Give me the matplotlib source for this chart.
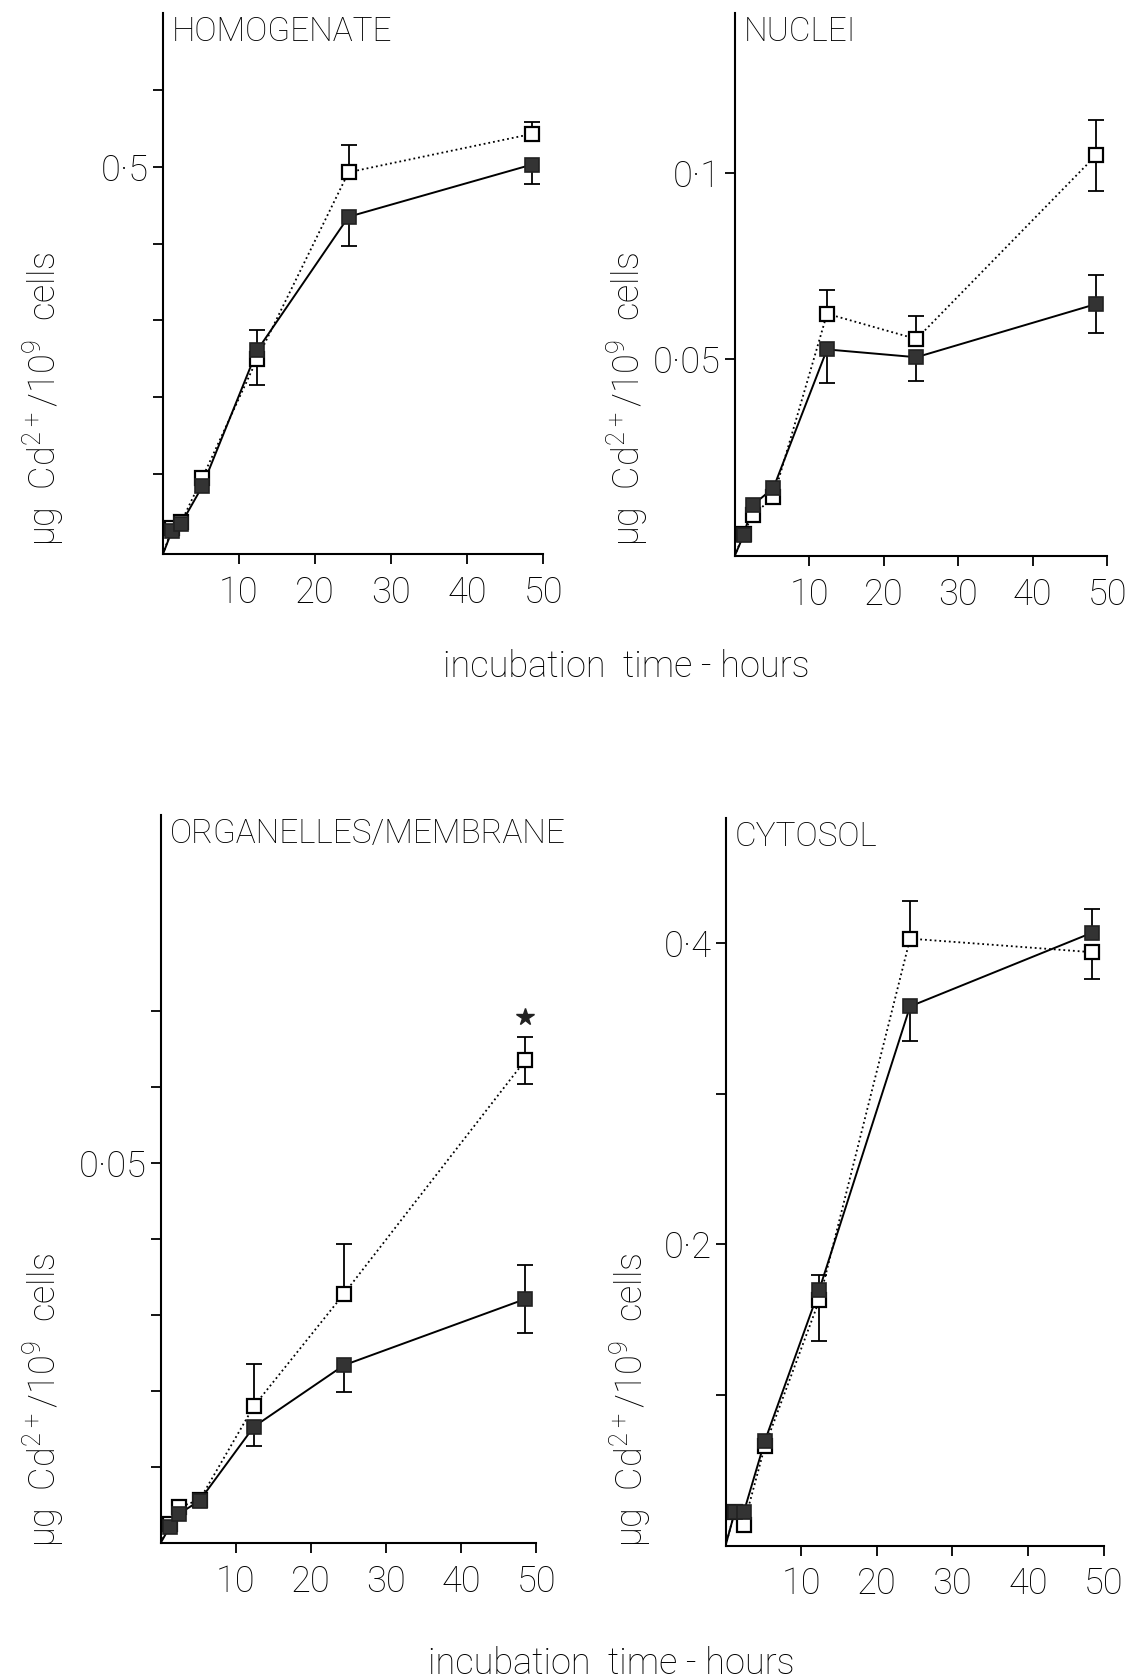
import matplotlib
matplotlib.use('Agg')
import numpy as np
import matplotlib.pyplot as plt

plt.rcParams['font.family'] = ['Roboto', 'DejaVu Sans']
plt.rcParams['font.weight'] = 'light'
plt.rcParams['mathtext.default'] = 'regular'

# incubation times (hours)
times = [1.2, 2.4, 5.2, 12.4, 24.4, 48.5]

# homogenate
homog_filled = [0.026, 0.035, 0.084, 0.261, 0.435, 0.503]
homog_open = [0.029, 0.037, 0.095, 0.250, 0.493, 0.543]
homog_filled_lo = [0, 0, 0, 0, 0.038, 0.025]
homog_filled_hi = [0, 0, 0, 0.026, 0, 0]
homog_open_lo = [0, 0, 0, 0.034, 0, 0]
homog_open_hi = [0, 0, 0, 0, 0.035, 0.016]

# nuclei
nuc_filled = [0.0026, 0.0107, 0.0153, 0.0526, 0.0505, 0.0648]
nuc_open = [0.003, 0.008, 0.0128, 0.0622, 0.0554, 0.1048]
nuc_filled_lo = [0, 0, 0, 0.009, 0.0064, 0.0078]
nuc_filled_hi = [0, 0, 0, 0, 0, 0.0078]
nuc_open_lo = [0, 0, 0, 0, 0, 0.0095]
nuc_open_hi = [0, 0, 0, 0.0064, 0.0062, 0.0095]

# organelles / membrane
org_filled = [0.0021, 0.0038, 0.0056, 0.0153, 0.0234, 0.0321]
org_open = [0.0025, 0.0047, 0.0057, 0.018, 0.0328, 0.0635]
org_filled_lo = [0, 0, 0, 0.0025, 0.0035, 0.0045]
org_filled_hi = [0, 0, 0, 0, 0, 0.0045]
org_open_lo = [0, 0, 0, 0, 0, 0.0031]
org_open_hi = [0, 0, 0, 0.0056, 0.0066, 0.0031]
org_star = (48.5, 0.0692)

# cytosol
cyt_filled = [0.022, 0.022, 0.0695, 0.170, 0.358, 0.407]
cyt_open = [0.022, 0.0138, 0.066, 0.163, 0.403, 0.394]
cyt_filled_lo = [0, 0, 0, 0, 0.023, 0]
cyt_filled_hi = [0, 0, 0, 0.010, 0, 0.016]
cyt_open_lo = [0, 0, 0, 0.027, 0, 0.018]
cyt_open_hi = [0, 0, 0, 0, 0.025, 0]

x_ticks = [10, 20, 30, 40, 50]
ylabel = 'μg  Cd$^{2+}$/10$^{9}$  cells'
xlabel = 'incubation  time - hours'

panels = [
    dict(title='HOMOGENATE', rect=[0.143, 0.670, 0.334, 0.322],
         ylim=(-0.005, 0.70), yticks=[0.1, 0.2, 0.3, 0.4, 0.5, 0.6],
         ylabels={0.5: '0·5'},
         filled=homog_filled, opn=homog_open,
         f_lo=homog_filled_lo, f_hi=homog_filled_hi,
         o_lo=homog_open_lo, o_hi=homog_open_hi),
    dict(title='NUCLEI', rect=[0.645, 0.669, 0.327, 0.323],
         ylim=(-0.003, 0.143), yticks=[0.05, 0.1],
         ylabels={0.05: '0·05', 0.1: '0·1'},
         filled=nuc_filled, opn=nuc_open,
         f_lo=nuc_filled_lo, f_hi=nuc_filled_hi,
         o_lo=nuc_open_lo, o_hi=nuc_open_hi),
    dict(title='ORGANELLES/MEMBRANE', rect=[0.141, 0.0815, 0.330, 0.4335],
         ylim=(0, 0.0958), yticks=[0.01, 0.02, 0.03, 0.04, 0.05, 0.06, 0.07],
         ylabels={0.05: '0·05'},
         filled=org_filled, opn=org_open,
         f_lo=org_filled_lo, f_hi=org_filled_hi,
         o_lo=org_open_lo, o_hi=org_open_hi),
    dict(title='CYTOSOL', rect=[0.637, 0.080, 0.332, 0.433],
         ylim=(0, 0.483), yticks=[0.1, 0.2, 0.3, 0.4],
         ylabels={0.2: '0·2', 0.4: '0·4'},
         filled=cyt_filled, opn=cyt_open,
         f_lo=cyt_filled_lo, f_hi=cyt_filled_hi,
         o_lo=cyt_open_lo, o_hi=cyt_open_hi),
]


def bars(ax, x, y, lo, hi):
    x = np.asarray(x)
    y = np.asarray(y)
    lo = np.asarray(lo)
    hi = np.asarray(hi)
    for ends in (y - lo, y + hi):
        m = ends != y
        ax.vlines(x[m], y[m], ends[m], color='black', lw=1.3, zorder=2)
        ax.plot(x[m], ends[m], ls='none', marker='_', ms=11, mew=1.3,
                color='black', zorder=2)


fig = plt.figure(figsize=(11.39, 16.8), dpi=100)

for p in panels:
    ax = fig.add_axes(p['rect'])
    y0 = p['ylim'][0]
    xs = [0] + times
    ax.plot(xs, [y0] + p['opn'], ls=':', color='black', lw=1.3, zorder=3)
    ax.plot(xs, [y0] + p['filled'], ls='-', color='black', lw=1.4, zorder=3)
    bars(ax, times, p['opn'], p['o_lo'], p['o_hi'])
    bars(ax, times, p['filled'], p['f_lo'], p['f_hi'])
    ax.plot(times, p['opn'], ls='none', marker='s', ms=10.5, mfc='white',
            mec='black', mew=1.6, zorder=4)
    ax.plot(times, p['filled'], ls='none', marker='s', ms=10.5, mfc='#333333',
            mec='#222222', mew=1.2, zorder=5)

    ax.set_xlim(0, 50)
    ax.set_ylim(*p['ylim'])
    ax.set_xticks(x_ticks)
    ax.set_xticklabels([str(t) for t in x_ticks])
    ax.set_yticks(p['yticks'])
    ax.set_yticklabels([p['ylabels'].get(t, '') for t in p['yticks']])
    for s in ('top', 'right'):
        ax.spines[s].set_visible(False)
    for s in ('left', 'bottom'):
        ax.spines[s].set_linewidth(1.5)
    ax.tick_params(axis='both', direction='out', length=7, width=1.3,
                   labelsize=26)
    ax.tick_params(axis='x', pad=8)
    ax.tick_params(axis='y', pad=3)
    ax.patch.set_alpha(0)
    ax.annotate(p['title'], xy=(0, 1), xycoords='axes fraction',
                xytext=(9, -19), textcoords='offset pixels',
                ha='left', va='center', fontsize=24)
    if p['title'] == 'ORGANELLES/MEMBRANE':
        ax.plot([org_star[0]], [org_star[1]], ls='none', marker='*', ms=13,
                color='#222222', zorder=5)

# y axis labels
for x, y in [(0.038, 0.675), (0.551, 0.675), (0.038, 0.079), (0.553, 0.079)]:
    fig.text(x, y, ylabel, rotation=90, ha='center', va='bottom', fontsize=26)

# shared x labels
fig.text(0.550, 0.603, xlabel, ha='center', va='center', fontsize=26)
fig.text(0.537, 0.0095, xlabel, ha='center', va='center', fontsize=26)

fig.savefig('out.png', dpi=100)
